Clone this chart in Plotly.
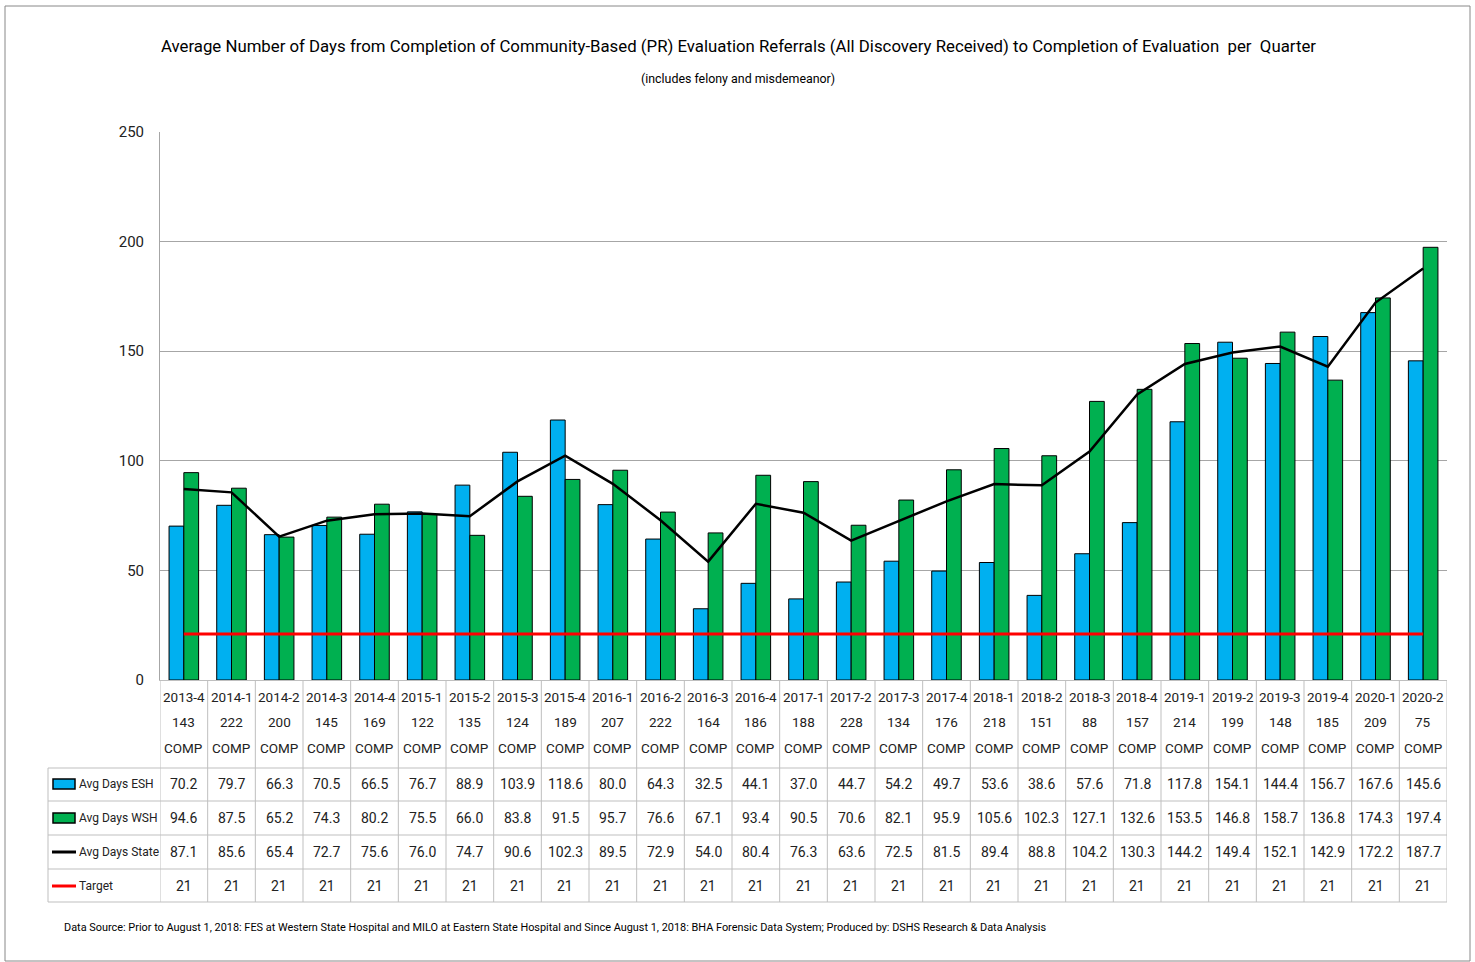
import plotly.graph_objects as go

quarters = ["2013-4","2014-1","2014-2","2014-3","2014-4","2015-1","2015-2","2015-3","2015-4",
            "2016-1","2016-2","2016-3","2016-4","2017-1","2017-2","2017-3","2017-4","2018-1",
            "2018-2","2018-3","2018-4","2019-1","2019-2","2019-3","2019-4","2020-1","2020-2"]
comp_counts = [143,222,200,145,169,122,135,124,189,207,222,164,186,188,228,134,176,218,
               151,88,157,214,199,148,185,209,75]
esh = [70.2,79.7,66.3,70.5,66.5,76.7,88.9,103.9,118.6,80.0,64.3,32.5,44.1,37.0,44.7,54.2,
       49.7,53.6,38.6,57.6,71.8,117.8,154.1,144.4,156.7,167.6,145.6]
wsh = [94.6,87.5,65.2,74.3,80.2,75.5,66.0,83.8,91.5,95.7,76.6,67.1,93.4,90.5,70.6,82.1,
       95.9,105.6,102.3,127.1,132.6,153.5,146.8,158.7,136.8,174.3,197.4]
state = [87.1,85.6,65.4,72.7,75.6,76.0,74.7,90.6,102.3,89.5,72.9,54.0,80.4,76.3,63.6,72.5,
         81.5,89.4,88.8,104.2,130.3,144.2,149.4,152.1,142.9,172.2,187.7]
target = [21]*len(quarters)
series_names = ["Avg Days ESH","Avg Days WSH","Avg Days State","Target"]

FONT = "Roboto, Liberation Sans, sans-serif"
W, H = 1475, 962
L, R, T, B = 160, 1447, 132, 680
n = len(quarters)

def py(p):
    return (B - p) / (B - T)

def px(p):
    return (p - L) / (R - L)

fig = go.Figure()
fig.add_trace(go.Bar(x=list(range(n)), y=esh, name=series_names[0],
                     marker=dict(color="#00B0F0", line=dict(color="black", width=1))))
fig.add_trace(go.Bar(x=list(range(n)), y=wsh, name=series_names[1],
                     marker=dict(color="#00B050", line=dict(color="black", width=1))))
fig.add_trace(go.Scatter(x=list(range(n)), y=state, name=series_names[2], mode="lines",
                         line=dict(color="black", width=2.5)))
fig.add_trace(go.Scatter(x=list(range(n)), y=target, name=series_names[3], mode="lines",
                         line=dict(color="#FF0000", width=3)))

grid = "#BFBFBF"
shapes = []
ann = []
# table horizontal lines
for yy in [768, 801, 835, 869, 902]:
    shapes.append(dict(type="line", xref="paper", yref="paper", x0=px(48), x1=1, y0=py(yy), y1=py(yy),
                       line=dict(color=grid, width=1)))
shapes.append(dict(type="line", xref="paper", yref="paper", x0=px(48), x1=px(48), y0=py(768), y1=py(902),
                   line=dict(color=grid, width=1)))
for i in range(n + 1):
    shapes.append(dict(type="line", xref="x", yref="paper", x0=i - 0.5, x1=i - 0.5, y0=py(680), y1=py(902),
                       line=dict(color=grid, width=1)))

hf = dict(family=FONT, size=13.5, color="#222")
tf = dict(family=FONT, size=14, color="#222")
for i, q in enumerate(quarters):
    for txt, yy in [(q, 697), (str(comp_counts[i]), 722), ("COMP", 748)]:
        ann.append(dict(x=i, y=py(yy), xref="x", yref="paper", text=txt, showarrow=False,
                        font=hf, xanchor="center", yanchor="middle"))
    for vals, yy, fmt in [(esh, 784, "{:.1f}"), (wsh, 818, "{:.1f}"), (state, 852, "{:.1f}"), (target, 886, "{}")]:
        ann.append(dict(x=i, y=py(yy), xref="x", yref="paper", text=fmt.format(vals[i]), showarrow=False,
                        font=tf, xanchor="center", yanchor="middle"))

# legend keys in table
rows_y = [784, 818, 852, 886]
for k, (nm, yy) in enumerate(zip(series_names, rows_y)):
    if k < 2:
        col = "#00B0F0" if k == 0 else "#00B050"
        shapes.append(dict(type="rect", xref="paper", yref="paper", x0=px(53), x1=px(75),
                           y0=py(yy + 5), y1=py(yy - 5), fillcolor=col, line=dict(color="black", width=1.5)))
    else:
        col = "black" if k == 2 else "#FF0000"
        shapes.append(dict(type="line", xref="paper", yref="paper", x0=px(52), x1=px(76),
                           y0=py(yy), y1=py(yy), line=dict(color=col, width=3)))
    ann.append(dict(x=px(77), y=py(yy), xref="paper", yref="paper", text=nm, showarrow=False,
                    font=dict(family=FONT, size=12, color="#222"), xanchor="left", yanchor="middle"))

# outer border
shapes.append(dict(type="rect", xref="paper", yref="paper", x0=px(5), x1=px(1470), y0=py(961), y1=py(6),
                   line=dict(color="#888", width=1)))

ann.append(dict(x=px(738), y=py(46), xref="paper", yref="paper",
                text="Average Number of Days from Completion of Community-Based (PR) Evaluation Referrals (All Discovery Received) to Completion of Evaluation  per  Quarter",
                showarrow=False, font=dict(family=FONT, size=16.8, color="black"), xanchor="center", yanchor="middle"))
ann.append(dict(x=px(738), y=py(78), xref="paper", yref="paper", text="(includes felony and misdemeanor)",
                showarrow=False, font=dict(family=FONT, size=12.4, color="black"), xanchor="center", yanchor="middle"))
ann.append(dict(x=px(62), y=py(927), xref="paper", yref="paper",
                text="Data Source: Prior to August 1, 2018: FES at Western State Hospital and MILO at Eastern State Hospital and Since August 1, 2018: BHA Forensic Data System; Produced by: DSHS Research & Data Analysis",
                showarrow=False, font=dict(family=FONT, size=10.9, color="black"), xanchor="left", yanchor="middle"))

fig.update_layout(
    width=W, height=H,
    margin=dict(l=L, r=W - R, t=T, b=H - B, pad=0),
    paper_bgcolor="white", plot_bgcolor="white",
    barmode="group", bargap=0.38, bargroupgap=0,
    showlegend=False,
    font=dict(family=FONT, size=14, color="#222"),
    shapes=shapes, annotations=ann,
    xaxis=dict(range=[-0.5, n - 0.5], showticklabels=False, showgrid=False, zeroline=False,
               showline=True, linecolor=grid, linewidth=1, ticks=""),
    yaxis=dict(range=[0, 250], dtick=50, showgrid=True, gridcolor="#A6A6A6", gridwidth=1,
               zeroline=False, showline=True, linecolor="#A6A6A6", ticks="",
               tickfont=dict(family=FONT, size=15, color="#222"), ticklabelstandoff=12),
)
fig.write_html("out.html", config={"displayModeBar": False},
               post_script="document.body.style.margin='0';")
